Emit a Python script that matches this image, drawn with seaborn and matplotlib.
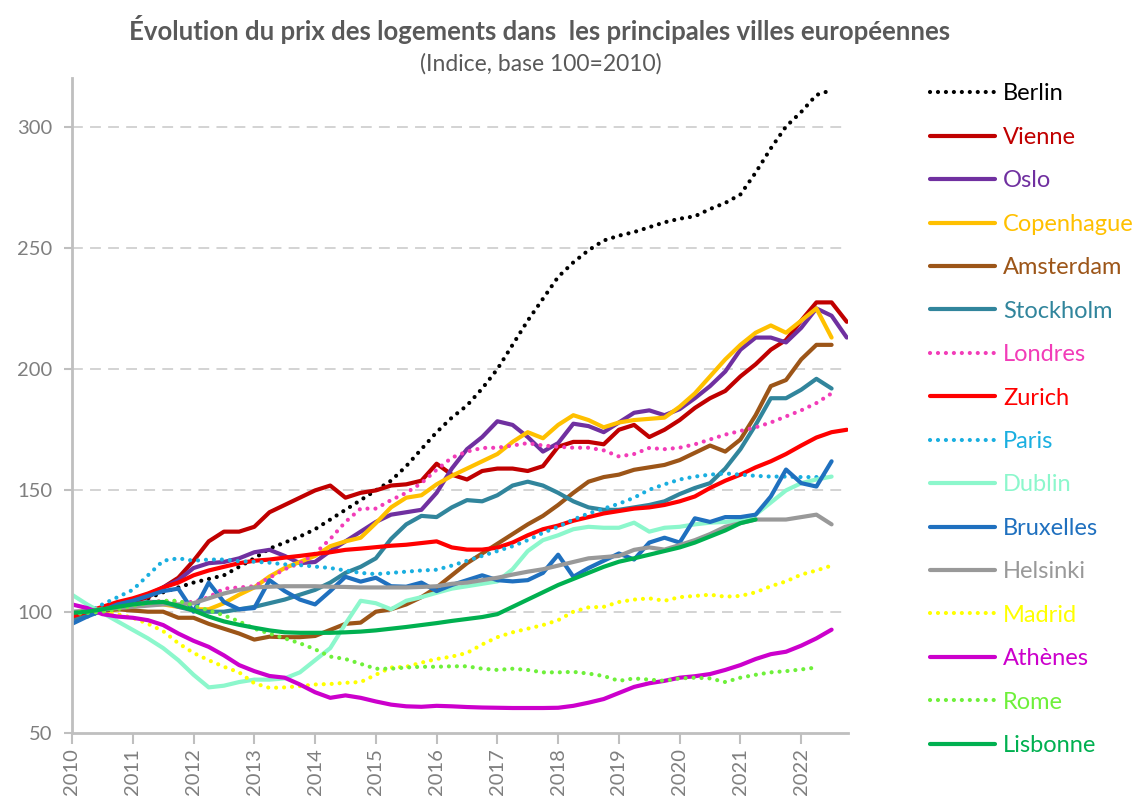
import numpy as np
import pandas as pd
import matplotlib
matplotlib.use("Agg")
import matplotlib.pyplot as plt
from matplotlib.ticker import FixedLocator
import seaborn as sns

# Quarterly price index, base 100 = 2010
quarters = [2010 + 0.25 * i for i in range(52)]
year_ticks = list(range(2010, 2023))
y_ticks = [50, 100, 150, 200, 250, 300]

berlin = [97, 98, 100.5, 101.5, 104, 105.5, 108, 110, 112, 113.5, 115, 118.5,
          122, 126, 128.5, 131, 134, 138, 142, 146, 150, 154, 160, 167,
          174, 180, 185, 192, 200, 210, 220, 229, 238, 244, 249, 253,
          255, 256.5, 258.5, 260.5, 262, 263, 266, 268.5, 272, 281, 291, 300,
          306, 313, 315]
vienne = [97, 99, 101, 102, 104, 106, 110, 114, 121, 129, 133, 133,
          135, 141, 144, 147, 150, 152, 147, 149, 150, 152, 152.5, 154,
          161, 156.5, 154.5, 158, 159, 159, 158, 160, 168, 170, 170, 169,
          175, 177, 172, 175, 179, 184, 188, 191, 197, 202, 208, 212,
          220, 227.5, 227.5, 219.5]
oslo = [97, 99, 100.5, 102.5, 105, 107, 110, 113, 118, 120, 120.5, 122,
        124.5, 125.5, 123, 120, 120.5, 125, 129, 133, 137, 140, 141, 142,
        149, 159, 167, 172, 178.5, 177, 172, 166, 169.5, 177.5, 176.5, 174,
        178, 182, 183, 181, 183.5, 188, 193, 199, 208, 213, 213, 211,
        217, 225, 222, 213]
copenhague = [98, 99, 100, 101, 102, 103, 103, 102, 101, 101, 103.5, 107,
              110, 114.5, 118, 120.5, 123, 127, 129, 130.5, 136.5, 143, 147, 148,
              152.5, 156, 159, 162, 165, 170, 174, 171.5, 177, 181, 179, 176,
              178, 179, 179.5, 180, 184.5, 190, 197, 204, 210, 215, 218, 215,
              220, 225, 213]
amsterdam = [99, 100, 100.5, 101, 100.5, 100, 100, 97.5, 97.5, 95, 93, 91,
             88.5, 89.7, 89.5, 89.5, 90, 92.5, 95, 95.5, 100, 101, 103, 106,
             110, 115, 120, 124, 128, 132, 136, 139.5, 144, 149, 153.6, 155.5,
             156.5, 158.5, 159.5, 160.5, 162.5, 165.5, 168.5, 166, 171, 181, 193, 195.5,
             204, 210, 210]
stockholm = [97, 99, 100.5, 102, 103, 104, 104, 102, 100.5, 100, 100, 101,
             102, 103.5, 105, 107, 109, 112, 116, 118.5, 122, 130, 136, 139.5,
             139, 143, 146, 145.5, 148, 152, 153.6, 152, 149, 145.5, 143, 142,
             142, 143, 144, 145.5, 148.5, 151, 153, 159, 167, 177, 188, 188,
             191.5, 196, 192]
londres = [100, 100, 101, 102, 103, 104, 104.5, 104, 104, 106, 109.5, 110,
           110.5, 114, 117.5, 120, 124, 130, 137, 142.5, 142.5, 146, 149, 153,
           158.5, 163.5, 166, 167.5, 167.6, 168.5, 169.5, 168.5, 168, 167.6, 167.6, 166.5,
           164, 165, 167.5, 167, 167.6, 169, 171, 173, 174.5, 176, 178, 180.5,
           183, 186, 190]
zurich = [98, 100, 102, 104, 105.5, 107.5, 110, 112, 115, 117, 118.5, 120,
          121, 121.5, 122.3, 123, 123.8, 124.5, 125.5, 126, 126.6, 127.2, 127.6, 128.3,
          129, 126.5, 125.6, 125.6, 126.4, 128.5, 131.5, 134, 135.5, 137.5, 139, 140.5,
          141.5, 142.5, 143, 144, 145.5, 147.5, 151, 154, 156.5, 159.5, 162, 165,
          168.5, 171.8, 174, 175]
paris = [99, 100, 103, 106, 109, 115, 121, 122, 121, 121.5, 121.5, 120.8,
         120.6, 120.2, 119.5, 119.2, 118.6, 118, 117, 116, 115.5, 116, 116.5, 117,
         117.3, 119, 121, 123, 125, 127, 129.5, 132.5, 135, 138, 140.5, 142.5,
         144.5, 147, 150.3, 152.5, 154.5, 155.7, 156.5, 157, 156.5, 156, 155.7, 155.7,
         155.5, 155.5, 155.7]
dublin = [107, 103, 99.5, 96, 92.5, 89, 85, 80, 74, 68.8, 69.5, 71,
          72, 72, 72.5, 75, 80, 85, 95, 104.5, 103.5, 101, 104.5, 106,
          107.8, 109.5, 110.5, 111.5, 112.5, 117.5, 125, 129.5, 131.5, 134, 135, 134.6,
          134.6, 136.7, 133, 134.6, 135, 136, 136.7, 137, 137.5, 140, 145, 150,
          153, 154.5, 155.7]
bruxelles = [95, 98, 100.5, 103, 104.5, 106.5, 108.5, 109.5, 100, 112, 104, 101,
             101.5, 113, 108.5, 105, 103, 108.5, 114.4, 112.4, 114, 110.5, 110.3, 112,
             108.5, 111, 113, 115, 113, 112.5, 113, 116, 123.5, 114.4, 118, 121,
             124, 121.5, 128.5, 130.5, 128.5, 138.5, 137, 139, 139, 140, 147.5, 158.6,
             153, 151.6, 162]
helsinki = [100, 100.5, 101, 101.5, 102, 102.5, 103, 103, 103.5, 105.5, 107.5, 109,
            110, 110.3, 110.5, 110.5, 110.5, 110.3, 110.2, 110, 110, 110, 110, 110.2,
            110.5, 111.5, 112, 113, 114, 115.3, 116.5, 117.5, 119, 120.5, 122, 122.5,
            123, 125.5, 126.5, 125.6, 127.5, 129.5, 132, 135, 136.5, 138, 138, 138,
            139, 140, 136]
madrid = [100, 100, 100, 99, 97.5, 95, 92, 87, 83, 80, 77.3, 75,
          70.5, 68.6, 68.8, 69.3, 70, 70.2, 70.7, 71, 74, 77, 77.3, 79,
          80.5, 81.5, 83, 86.5, 89.5, 91.5, 93, 94.5, 96.5, 100, 101.8, 102,
          104, 105, 105.5, 104.5, 106, 106.5, 107, 106.2, 106.5, 108, 110.5, 112.5,
          115.3, 117, 119]
athenes = [103, 101.5, 99, 98, 97.5, 96.5, 94.5, 91, 88, 85.5, 82, 78,
           75.5, 73.5, 72.8, 70, 66.8, 64.5, 65.5, 64.5, 63, 61.7, 61, 60.8,
           61.2, 61, 60.7, 60.5, 60.4, 60.3, 60.3, 60.3, 60.4, 61.2, 62.5, 64,
           66.5, 69, 70.5, 71.5, 72.8, 73.4, 74.3, 76, 78, 80.5, 82.5, 83.5,
           86, 89, 92.6]
rome = [99, 99.5, 100, 101, 102.5, 103.5, 104.5, 104.5, 102.5, 100.5, 98.5, 96,
        93, 91, 89, 87, 84.5, 81.5, 80.5, 78.5, 76.5, 76.5, 77, 77.3,
        77.3, 77.5, 77.5, 76.5, 76, 76.5, 76, 75, 75, 75.2, 74.5, 73.5,
        71.5, 72.5, 72, 71.5, 72.5, 72.8, 72.5, 71, 72.8, 74, 75, 75.5,
        76.2, 77]
lisbonne = [99.5, 100, 101, 102, 103, 103.7, 104, 102.5, 100.5, 98, 96, 94.6,
            93.4, 92.3, 91.5, 91.3, 91.3, 91.3, 91.5, 91.8, 92.3, 93, 93.7, 94.5,
            95.3, 96.2, 97, 97.8, 99, 102, 105, 108, 111, 113.5, 116, 118.5,
            120.6, 122, 123.5, 125, 126.5, 128.5, 131, 133.5, 136.5, 138]

series = [
    ("Berlin", berlin, "#000000", "dot"),
    ("Vienne", vienne, "#C00000", "solid"),
    ("Oslo", oslo, "#7030A0", "solid"),
    ("Copenhague", copenhague, "#FFC000", "solid"),
    ("Amsterdam", amsterdam, "#9C5518", "solid"),
    ("Stockholm", stockholm, "#31859C", "solid"),
    ("Londres", londres, "#F23CB8", "dot"),
    ("Zurich", zurich, "#FF0000", "solid"),
    ("Paris", paris, "#1AAFE0", "dot"),
    ("Dublin", dublin, "#8CF7CC", "solid"),
    ("Bruxelles", bruxelles, "#1F70BF", "solid"),
    ("Helsinki", helsinki, "#999999", "solid"),
    ("Madrid", madrid, "#FFFF00", "dot"),
    ("Athènes", athenes, "#CC00CC", "solid"),
    ("Rome", rome, "#6EF03A", "dot"),
    ("Lisbonne", lisbonne, "#00B050", "solid"),
]

sns.set_theme(style="white")
plt.rcParams["font.family"] = ["Lato", "DejaVu Sans"]

fig = plt.figure(figsize=(11.38, 7.98), dpi=100)
ax = fig.add_axes([72 / 1138, 1 - 733 / 798, (848 - 72) / 1138, (733 - 78) / 798])

handles = []
for name, vals, color, style in series:
    df = pd.DataFrame({"trimestre": quarters[:len(vals)], "indice": vals})
    ls = (0, (0.01, 1.9)) if style == "dot" else "-"
    sns.lineplot(data=df, x="trimestre", y="indice", ax=ax, color=color,
                 linewidth=3.0, linestyle=ls, dash_capstyle="round",
                 solid_capstyle="round", solid_joinstyle="round", legend=False)
    handles.append(ax.get_lines()[-1])

ax.set_xlim(2010, 2022.77)
ax.set_ylim(50, 320)
ax.set_xlabel("")
ax.set_ylabel("")

ax.xaxis.set_major_locator(FixedLocator(year_ticks))
ax.set_xticklabels([str(y) for y in year_ticks], rotation=90)
ax.yaxis.set_major_locator(FixedLocator(y_ticks))

tick_color = "#7F7F7F"
ax.tick_params(axis="x", direction="out", length=8, width=1.5, color="#BFBFBF",
               labelcolor=tick_color, labelsize=14.5, pad=3, bottom=True)
ax.tick_params(axis="y", direction="out", length=6, width=1.5, color="#BFBFBF",
               labelcolor=tick_color, labelsize=14.5, pad=8, left=True)

for side in ["top", "right"]:
    ax.spines[side].set_visible(False)
for side in ["left", "bottom"]:
    ax.spines[side].set_color("#BFBFBF")
    ax.spines[side].set_linewidth(2)

ax.grid(False)
for yv in y_ticks[1:]:
    ax.axhline(yv, color="#D0D0D0", linewidth=1.3, linestyle=(0, (6, 4)), zorder=0)

fig.text(0.474, 0.963, "Évolution du prix des logements dans  les principales villes européennes",
         ha="center", va="center", fontsize=18.5, fontweight="bold", color="#595959")
fig.text(0.475, 0.920, "(Indice, base 100=2010)", ha="center", va="center",
         fontsize=16.5, color="#595959")

leg = ax.legend(handles, [s[0] for s in series], loc="upper left",
                bbox_to_anchor=(930 / 1138, 1 - 83.5 / 798), bbox_transform=fig.transFigure,
                frameon=False, fontsize=17, handlelength=2.75, handletextpad=0.34,
                labelspacing=0.95, borderpad=0, borderaxespad=0)
for text, (_, _, color, _) in zip(leg.get_texts(), series):
    text.set_color(color)

fig.savefig("out.png", dpi=100)
